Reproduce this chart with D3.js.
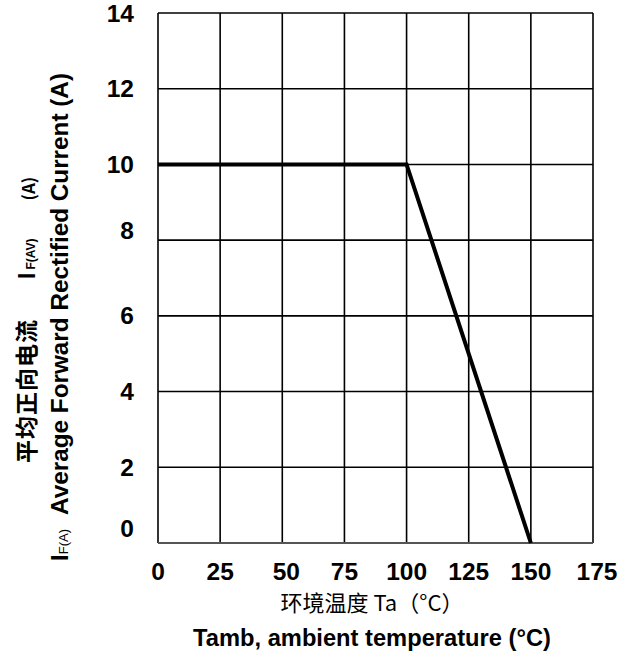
<!DOCTYPE html>
<html><head><meta charset="utf-8">
<script src="https://cdn.jsdelivr.net/npm/d3@7"></script>
<style>body{margin:0;background:#fff}svg{display:block}</style>
</head><body>
<script>
const xTicks = [0, 25, 50, 75, 100, 125, 150, 175];
const yTicks = [0, 2, 4, 6, 8, 10, 12, 14];
const tempValues = [0, 100, 150];
const currentValues = [10, 10, 0];
const xLabelCN = "环境温度 Ta（°C）";
const xLabelEN = "Tamb, ambient temperature (°C)";

const W = 636, H = 656;
const m = {left: 158, right: 43, top: 13, bottom: 113};
const svg = d3.select("body").append("svg").attr("width", W).attr("height", H);
const x = d3.scaleLinear().domain([0, 175]).range([m.left, W - m.right]);
const y = d3.scaleLinear().domain([0, 14]).range([H - m.bottom, m.top]);
const font = "'Liberation Sans', Arial, sans-serif";

// grid
const g = svg.append("g");
g.selectAll("line.v").data(xTicks).join("line")
  .attr("x1", d => x(d)).attr("x2", d => x(d))
  .attr("y1", y(0)).attr("y2", y(14))
  .attr("stroke", "#000").attr("stroke-width", 1.6);
g.selectAll("line.h").data(yTicks).join("line")
  .attr("x1", x(0)).attr("x2", x(175))
  .attr("y1", d => y(d)).attr("y2", d => y(d))
  .attr("stroke", d => d === 0 ? "#555" : "#000").attr("stroke-width", d => d === 0 ? 2 : 1.6);

// data line
const pts = tempValues.map((t, i) => [t, currentValues[i]]);
svg.append("path").datum(pts)
  .attr("d", d3.line().x(d => x(d[0])).y(d => y(d[1])))
  .attr("fill", "none").attr("stroke", "#000").attr("stroke-width", 4);

// y tick labels
const yNudge = {0: -15, 8: -10};
svg.selectAll("text.yt").data(yTicks).join("text")
  .attr("x", 134).attr("y", d => y(d) + (yNudge[d] || 0))
  .attr("dy", "0.35em").attr("text-anchor", "end")
  .attr("font-family", font).attr("font-weight", "bold").attr("font-size", 24.5)
  .text(d => d);

// x tick labels
svg.selectAll("text.xt").data(xTicks).join("text")
  .attr("x", d => x(d) + (d === 50 || d === 175 ? 4 : 0)).attr("y", 580)
  .attr("text-anchor", "middle")
  .attr("font-family", font).attr("font-weight", "bold").attr("font-size", 24.5)
  .text(d => d);

// x labels
svg.append("text").attr("x", 372).attr("y", 611).attr("text-anchor", "middle")
  .attr("font-family", "'Noto Sans CJK SC', sans-serif").attr("font-size", 22)
  .text(xLabelCN);
svg.append("text").attr("x", 372).attr("y", 646).attr("text-anchor", "middle")
  .attr("font-family", font).attr("font-weight", "bold").attr("font-size", 23.7)
  .text(xLabelEN);

// y label column 1
const c1 = svg.append("text").attr("transform", "translate(35,463) rotate(-90)")
  .attr("font-weight", "bold").attr("font-size", 23);
c1.append("tspan").attr("font-family", "'Noto Sans CJK SC', sans-serif")
  .attr("letter-spacing", 1).text("平均正向电流");
c1.append("tspan").attr("font-family", font).attr("dx", 40).text("I");
c1.append("tspan").attr("font-family", font).attr("font-size", 12).attr("dx", 3).text("F(AV)");
c1.append("tspan").attr("font-family", "'Noto Sans CJK SC', sans-serif").attr("font-size", 17).attr("dx", 38).text("(A)");

// y label column 2
const c2 = svg.append("text").attr("transform", "translate(68,561) rotate(-90)")
  .attr("font-family", font).attr("font-weight", "bold").attr("font-size", 24.3);
c2.append("tspan").text("I");
c2.append("tspan").attr("font-size", 13).attr("font-weight", "normal").text("F(A)");
c2.append("tspan").attr("dx", 14).text("Average Forward Rectified Current (A)");
</script>
</body></html>
